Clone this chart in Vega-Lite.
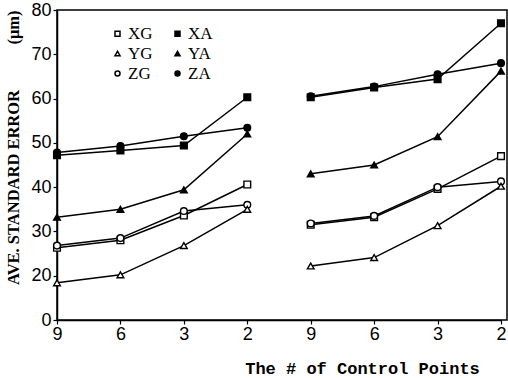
{
  "$schema": "https://vega.github.io/schema/vega-lite/v6.json",
  "autosize": "none",
  "width": 450,
  "height": 310,
  "padding": {"left": 57, "top": 10, "right": 1, "bottom": 58},
  "background": "white",
  "config": {
    "view": {"stroke": "black", "strokeWidth": 1.5},
    "axis": {"grid": false, "domainColor": "black", "domainWidth": 1.5, "tickColor": "black", "tickWidth": 1.2, "labelColor": "black", "titleColor": "black"}
  },
  "data": {
    "values": [
      {"series": "XG", "run": "1", "cp": "9 (1)", "error": 26.3},
      {"series": "XG", "run": "1", "cp": "6 (1)", "error": 28.0},
      {"series": "XG", "run": "1", "cp": "3 (1)", "error": 33.6},
      {"series": "XG", "run": "1", "cp": "2 (1)", "error": 40.6},
      {"series": "ZG", "run": "1", "cp": "9 (1)", "error": 26.8},
      {"series": "ZG", "run": "1", "cp": "6 (1)", "error": 28.5},
      {"series": "ZG", "run": "1", "cp": "3 (1)", "error": 34.6},
      {"series": "ZG", "run": "1", "cp": "2 (1)", "error": 36.0},
      {"series": "YG", "run": "1", "cp": "9 (1)", "error": 18.4},
      {"series": "YG", "run": "1", "cp": "6 (1)", "error": 20.2},
      {"series": "YG", "run": "1", "cp": "3 (1)", "error": 26.8},
      {"series": "YG", "run": "1", "cp": "2 (1)", "error": 35.0},
      {"series": "XA", "run": "1", "cp": "9 (1)", "error": 47.2},
      {"series": "XA", "run": "1", "cp": "6 (1)", "error": 48.3},
      {"series": "XA", "run": "1", "cp": "3 (1)", "error": 49.4},
      {"series": "XA", "run": "1", "cp": "2 (1)", "error": 60.3},
      {"series": "ZA", "run": "1", "cp": "9 (1)", "error": 47.8},
      {"series": "ZA", "run": "1", "cp": "6 (1)", "error": 49.3},
      {"series": "ZA", "run": "1", "cp": "3 (1)", "error": 51.5},
      {"series": "ZA", "run": "1", "cp": "2 (1)", "error": 53.4},
      {"series": "YA", "run": "1", "cp": "9 (1)", "error": 33.2},
      {"series": "YA", "run": "1", "cp": "6 (1)", "error": 35.0},
      {"series": "YA", "run": "1", "cp": "3 (1)", "error": 39.4},
      {"series": "YA", "run": "1", "cp": "2 (1)", "error": 52.0},
      {"series": "XG", "run": "2", "cp": "9 (2)", "error": 31.5},
      {"series": "XG", "run": "2", "cp": "6 (2)", "error": 33.2},
      {"series": "XG", "run": "2", "cp": "3 (2)", "error": 39.6},
      {"series": "XG", "run": "2", "cp": "2 (2)", "error": 47.0},
      {"series": "ZG", "run": "2", "cp": "9 (2)", "error": 31.8},
      {"series": "ZG", "run": "2", "cp": "6 (2)", "error": 33.5},
      {"series": "ZG", "run": "2", "cp": "3 (2)", "error": 40.0},
      {"series": "ZG", "run": "2", "cp": "2 (2)", "error": 41.3},
      {"series": "YG", "run": "2", "cp": "9 (2)", "error": 22.2},
      {"series": "YG", "run": "2", "cp": "6 (2)", "error": 24.1},
      {"series": "YG", "run": "2", "cp": "3 (2)", "error": 31.3},
      {"series": "YG", "run": "2", "cp": "2 (2)", "error": 40.2},
      {"series": "XA", "run": "2", "cp": "9 (2)", "error": 60.3},
      {"series": "XA", "run": "2", "cp": "6 (2)", "error": 62.5},
      {"series": "XA", "run": "2", "cp": "3 (2)", "error": 64.4},
      {"series": "XA", "run": "2", "cp": "2 (2)", "error": 77.0},
      {"series": "ZA", "run": "2", "cp": "9 (2)", "error": 60.5},
      {"series": "ZA", "run": "2", "cp": "6 (2)", "error": 62.7},
      {"series": "ZA", "run": "2", "cp": "3 (2)", "error": 65.5},
      {"series": "ZA", "run": "2", "cp": "2 (2)", "error": 68.0},
      {"series": "YA", "run": "2", "cp": "9 (2)", "error": 43.0},
      {"series": "YA", "run": "2", "cp": "6 (2)", "error": 45.0},
      {"series": "YA", "run": "2", "cp": "3 (2)", "error": 51.4},
      {"series": "YA", "run": "2", "cp": "2 (2)", "error": 66.2}
    ]
  },
  "encoding": {
    "x": {
      "field": "cp", "type": "nominal",
      "scale": {"type": "point", "padding": 0, "range": [0, 444], "domain": ["9 (1)", "6 (1)", "3 (1)", "2 (1)", "9 (2)", "6 (2)", "3 (2)", "2 (2)"]},
      "axis": {
        "labelExpr": "split(datum.label, ' ')[0]",
        "labelAngle": 0,
        "labelFont": "Liberation Sans", "labelFontSize": 18, "labelPadding": 1, "tickSize": 4,
        "title": "The # of Control Points",
        "titleFont": "Liberation Mono", "titleFontWeight": "bold", "titleFontSize": 17,
        "titleX": 305, "titlePadding": 17
      }
    },
    "y": {
      "field": "error", "type": "quantitative",
      "scale": {"domain": [10, 80], "nice": false, "zero": false},
      "axis": {
        "values": [10, 20, 30, 40, 50, 60, 70, 80],
        "labelExpr": "datum.value == 10 ? '0' : datum.label",
        "labelFont": "Liberation Sans", "labelFontSize": 18, "labelPadding": 2, "tickSize": 4,
        "title": "AVE. STANDARD ERROR\u00a0\u00a0\u00a0\u00a0\u00a0\u00a0\u00a0\u00a0\u00a0\u00a0\u00a0(μm)",
        "titleFont": "Liberation Serif", "titleFontWeight": "bold", "titleFontSize": 16.5,
        "titleAnchor": "end", "titlePadding": 9
      }
    }
  },
  "layer": [
    {
      "mark": {"type": "line", "color": "black", "strokeWidth": 1.5},
      "encoding": {
        "detail": [{"field": "series", "type": "nominal"}, {"field": "run", "type": "nominal"}],
        "order": {"value": null}
      }
    },
    {
      "mark": {"type": "point", "filled": true, "stroke": "black", "strokeWidth": 1.4, "size": 45, "opacity": 1},
      "encoding": {
        "shape": {
          "field": "series", "type": "nominal",
          "scale": {"domain": ["XG", "YG", "ZG", "XA", "YA", "ZA"], "range": ["square", "triangle-up", "circle", "square", "triangle-up", "circle"]},
          "legend": {
            "title": null, "orient": "none", "legendX": 52, "legendY": 15, "columns": 2,
            "columnPadding": 16, "rowPadding": 2, "padding": 0,
            "labelFont": "Liberation Serif", "labelFontSize": 17, "labelColor": "black", "labelOffset": 2,
            "symbolSize": 25,
            "encode": {"symbols": {"update": {
              "stroke": {"value": "black"},
              "strokeWidth": {"value": 1.2},
              "fill": {"signal": "indexof(['XG','YG','ZG'], datum.value) >= 0 ? 'white' : 'black'"},
              "opacity": {"value": 1}
            }}}
          }
        },
        "fill": {
          "field": "series", "type": "nominal",
          "scale": {"domain": ["XG", "YG", "ZG", "XA", "YA", "ZA"], "range": ["white", "white", "white", "black", "black", "black"]},
          "legend": null
        }
      }
    }
  ]
}
